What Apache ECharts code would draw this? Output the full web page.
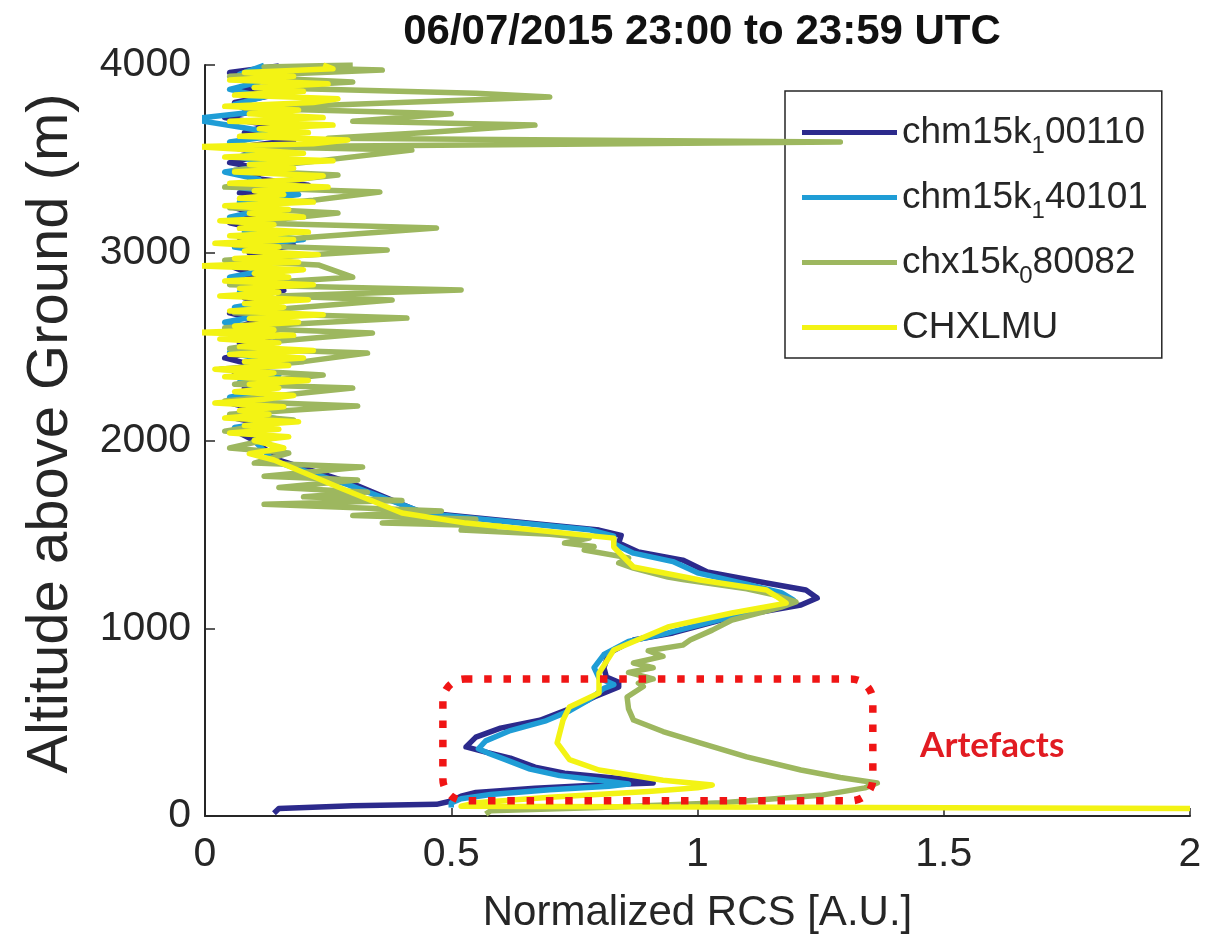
<!DOCTYPE html>
<html>
<head>
<meta charset="utf-8">
<script src="https://cdn.jsdelivr.net/npm/echarts@6/dist/echarts.min.js"></script>
<style>
  html, body { margin: 0; padding: 0; background: #ffffff; }
  #chart { width: 1207px; height: 944px; }
</style>
</head>
<body>
<div id="chart"></div>
<script>
// Normalized range-corrected signal profiles, one list of [RCS, altitude (m)] per ceilometer
const titleText = '06/07/2015 23:00 to 23:59 UTC';
const xTicks = [0, 0.5, 1, 1.5, 2];
const yTicks = [0, 1000, 2000, 3000, 4000];

const chm15k1_00110 = [
  [0.14, 15], [0.15, 40], [0.30, 55], [0.47, 62], [0.50, 80], [0.52, 105], [0.55, 125],
  [0.67, 148], [0.80, 165], [0.91, 176], [0.84, 200], [0.73, 228], [0.67, 260], [0.62, 308],
  [0.57, 340], [0.53, 368], [0.55, 420], [0.60, 468], [0.68, 510], [0.735, 565], [0.79, 634],
  [0.84, 687], [0.84, 712], [0.815, 740], [0.81, 790], [0.82, 868], [0.87, 937], [0.95, 975],
  [1.07, 1060], [1.21, 1124], [1.243, 1161], [1.22, 1204], [1.14, 1241], [1.02, 1300],
  [0.97, 1363], [0.88, 1406], [0.84, 1454], [0.845, 1495], [0.80, 1523], [0.44, 1616],
  [0.30, 1770], [0.15, 1895], [0.10, 2000], [0.07, 2040], [0.13, 2080], [0.06, 2120],
  [0.11, 2160], [0.05, 2200], [0.12, 2240], [0.08, 2280], [0.14, 2320], [0.06, 2360],
  [0.10, 2400], [0.04, 2440], [0.12, 2480], [0.07, 2520], [0.15, 2560], [0.06, 2600],
  [0.11, 2640], [0.05, 2680], [0.13, 2720], [0.08, 2760], [0.16, 2800], [0.05, 2840],
  [0.10, 2880], [0.06, 2920], [0.14, 2960], [0.09, 3000], [0.18, 3040], [0.07, 3080],
  [0.12, 3120], [0.05, 3160], [0.11, 3200], [0.06, 3240], [0.15, 3280], [0.07, 3320],
  [0.21, 3360], [0.09, 3400], [0.13, 3440], [0.05, 3480], [0.12, 3520], [0.06, 3560],
  [0.18, 3600], [0.08, 3640], [0.13, 3680], [0.04, 3720], [0.11, 3760], [0.06, 3800],
  [0.14, 3840], [0.07, 3880], [0.12, 3920], [0.05, 3960], [0.15, 3995]
];

const chm15k1_40101 = [
  [0.50, 45], [0.50, 70], [0.52, 92], [0.58, 115], [0.70, 140], [0.82, 158], [0.86, 170],
  [0.80, 190], [0.72, 215], [0.66, 250], [0.61, 300], [0.575, 335], [0.555, 358], [0.57, 400],
  [0.62, 455], [0.69, 505], [0.74, 560], [0.78, 620], [0.81, 680], [0.83, 700], [0.80, 735],
  [0.79, 790], [0.81, 860], [0.86, 930], [0.94, 975], [1.06, 1055], [1.17, 1115], [1.195, 1150],
  [1.17, 1190], [1.10, 1235], [1.00, 1295], [0.95, 1355], [0.87, 1400], [0.83, 1450],
  [0.83, 1490], [0.78, 1525], [0.45, 1610], [0.29, 1765], [0.14, 1890], [0.10, 2000],
  [0.12, 2030], [0.06, 2070], [0.16, 2110], [0.07, 2150], [0.12, 2190], [0.05, 2230],
  [0.13, 2270], [0.07, 2310], [0.15, 2350], [0.08, 2390], [0.12, 2430], [0.05, 2470],
  [0.11, 2510], [0.07, 2550], [0.13, 2590], [0.04, 2630], [0.12, 2670], [0.06, 2710],
  [0.15, 2750], [0.07, 2790], [0.11, 2830], [0.05, 2870], [0.13, 2910], [0.08, 2950],
  [0.16, 2990], [0.06, 3030], [0.20, 3070], [0.08, 3110], [0.13, 3150], [0.05, 3190],
  [0.12, 3230], [0.07, 3270], [0.19, 3310], [0.06, 3350], [0.11, 3390], [0.04, 3430],
  [0.14, 3470], [0.07, 3510], [0.12, 3550], [0.05, 3590], [0.16, 3630], [0.07, 3670],
  [-0.03, 3712], [0.10, 3750], [0.06, 3790], [0.12, 3830], [0.05, 3870], [0.11, 3910],
  [0.07, 3950], [0.12, 3998]
];

const chx15k0_80082 = [
  [0.57, 10], [0.58, 28], [0.80, 45], [1.05, 70], [1.25, 110], [1.34, 150], [1.365, 176],
  [1.29, 205], [1.21, 245], [1.10, 315], [1.005, 389], [0.93, 450], [0.87, 511], [0.86, 570],
  [0.857, 634], [0.89, 690], [0.88, 708], [0.91, 730], [0.86, 765], [0.91, 790], [0.87, 815],
  [0.93, 850], [0.90, 880], [0.97, 910], [0.985, 937], [1.03, 990], [1.07, 1044], [1.13, 1085],
  [1.17, 1113], [1.20, 1140], [1.16, 1175], [1.10, 1210], [0.97, 1260], [0.94, 1273],
  [0.87, 1320], [0.84, 1348], [0.86, 1375], [0.77, 1417], [0.79, 1435], [0.73, 1454],
  [0.78, 1480], [0.70, 1500], [0.52, 1523], [0.60, 1545], [0.36, 1560], [0.55, 1580],
  [0.30, 1600], [0.48, 1625], [0.12, 1660], [0.40, 1680], [0.20, 1700], [0.33, 1725],
  [0.15, 1750], [0.31, 1790], [0.12, 1810], [0.32, 1859], [0.10, 1880], [0.17, 1933],
  [0.05, 1960], [0.15, 2019], [0.04, 2050], [0.18, 2109], [0.05, 2140], [0.31, 2184],
  [0.04, 2210], [0.30, 2280], [0.06, 2300], [0.24, 2349], [0.03, 2380], [0.20, 2420],
  [0.33, 2466], [0.05, 2490], [0.15, 2530], [0.34, 2573], [0.04, 2600], [0.41, 2652],
  [0.06, 2680], [0.38, 2748], [0.15, 2770], [0.52, 2802], [0.05, 2830], [0.30, 2870],
  [0.23, 2935], [0.04, 2960], [0.37, 3015], [0.06, 3040], [0.20, 3080], [0.47, 3132],
  [0.08, 3160], [0.27, 3212], [0.05, 3240], [0.22, 3280], [0.355, 3324], [0.04, 3350],
  [0.27, 3414], [0.06, 3440], [0.20, 3480], [0.42, 3547], [0.10, 3565], [1.29, 3590],
  [0.25, 3610], [0.45, 3640], [0.67, 3680], [0.30, 3700], [0.50, 3740], [0.08, 3770],
  [0.70, 3830], [0.55, 3850], [0.10, 3880], [0.30, 3910], [0.05, 3940], [0.36, 3973],
  [0.12, 3990], [0.30, 4000]
];

const chxlmu = [
  [2.00, 40], [0.52, 52], [0.55, 70], [0.70, 100], [0.90, 130], [1.00, 150], [1.03, 165],
  [0.93, 190], [0.80, 245], [0.74, 300], [0.715, 389], [0.727, 511], [0.74, 581], [0.80, 655],
  [0.80, 761], [0.83, 884], [0.94, 1007], [1.07, 1081], [1.18, 1134], [1.16, 1170],
  [1.14, 1204], [1.005, 1257], [0.87, 1326], [0.83, 1433], [0.83, 1480], [0.53, 1560],
  [0.40, 1614], [0.27, 1752], [0.14, 1896], [0.09, 1930], [0.16, 1960], [0.10, 2000],
  [0.17, 2020], [0.05, 2040], [0.15, 2060], [0.08, 2080], [0.19, 2100], [0.04, 2120],
  [0.13, 2140], [0.07, 2160], [0.16, 2180], [0.02, 2200], [0.12, 2220], [0.18, 2240],
  [0.06, 2260], [0.15, 2280], [0.09, 2300], [0.21, 2320], [0.04, 2340], [0.14, 2360],
  [0.02, 2380], [0.17, 2400], [0.08, 2420], [0.20, 2440], [0.05, 2460], [0.22, 2480],
  [0.07, 2500], [0.15, 2520], [0.03, 2540], [0.18, 2560], [-0.03, 2575], [0.14, 2590],
  [0.06, 2610], [0.19, 2630], [0.09, 2650], [0.24, 2670], [0.05, 2690], [0.16, 2710],
  [0.08, 2730], [0.21, 2750], [0.03, 2770], [0.15, 2790], [0.07, 2810], [0.22, 2830],
  [0.04, 2850], [0.17, 2870], [0.10, 2890], [0.20, 2910], [-0.01, 2930], [0.19, 2950],
  [0.06, 2970], [0.23, 2990], [0.08, 3010], [0.15, 3030], [0.02, 3050], [0.18, 3070],
  [0.05, 3090], [0.21, 3110], [0.07, 3130], [0.14, 3150], [0.03, 3170], [0.20, 3190],
  [0.09, 3210], [0.17, 3230], [0.04, 3250], [0.22, 3270], [0.07, 3290], [0.16, 3310],
  [0.10, 3330], [0.25, 3350], [0.05, 3370], [0.19, 3390], [0.24, 3410], [0.06, 3430],
  [0.18, 3450], [0.09, 3470], [0.26, 3490], [0.04, 3510], [0.20, 3530], [0.08, 3550],
  [-0.02, 3565], [0.22, 3580], [0.29, 3600], [0.07, 3620], [0.21, 3640], [0.11, 3660],
  [0.26, 3680], [0.05, 3700], [0.24, 3720], [0.09, 3740], [0.19, 3760], [0.04, 3780],
  [0.22, 3800], [0.27, 3820], [0.06, 3840], [0.20, 3860], [0.10, 3880], [0.25, 3900],
  [0.05, 3920], [0.18, 3940], [0.08, 3960], [0.26, 3980], [0.24, 4000]
];

const seriesNames = ['chm15k_1 00110', 'chm15k_1 40101', 'chx15k_0 80082', 'CHXLMU'];
const seriesColors = ['#2c2a8c', '#1f9dd6', '#9db75f', '#f3f314'];
const seriesData = [chm15k1_00110, chm15k1_40101, chx15k0_80082, chxlmu];

// Box drawn around the near-range artefacts, in axis units: [xMin, xMax, altMin, altMax]
const artefactBox = [0.483, 1.356, 81, 730];
const artefactLabel = { text: 'Artefacts', x: 1.452, alt: 373 };

const chart = echarts.init(document.getElementById('chart'), null, { renderer: 'canvas' });
const axisColor = '#262626';
const font = '"Liberation Sans", Arial, Helvetica, sans-serif';

// "chm15k_1 00110" -> chm15k with subscript 1, then 00110
function legendLabel(name) {
  const m = name.match(/^([a-z0-9]+k)_(\d) (\d+)$/);
  if (!m) return '{t|' + name + '}';
  return '{t|' + m[1] + '}{s|' + m[2] + '}{t|' + m[3] + '}';
}

chart.setOption({
  animation: false,
  backgroundColor: '#ffffff',
  title: {
    text: titleText,
    left: 697,
    top: 6,
    textAlign: 'center',
    textStyle: { fontFamily: font, fontWeight: 'bold', fontSize: 42, color: '#111111' }
  },
  grid: { left: 205, right: 17, top: 65, bottom: 128, containLabel: false },
  legend: {
    orient: 'vertical',
    left: 785,
    top: 91,
    padding: [23, 14, 12, 17],
    itemGap: 20.5,
    itemWidth: 95,
    itemHeight: 5,
    icon: 'rect',
    borderColor: axisColor,
    borderWidth: 1.5,
    borderRadius: 0,
    backgroundColor: '#ffffff',
    data: seriesNames,
    formatter: legendLabel,
    textStyle: {
      fontFamily: font,
      color: axisColor,
      rich: {
        t: { fontFamily: font, fontSize: 37, color: axisColor, lineHeight: 52 },
        s: { fontFamily: font, fontSize: 24, color: axisColor, lineHeight: 16, verticalAlign: 'bottom' }
      }
    }
  },
  xAxis: {
    type: 'value',
    min: xTicks[0],
    max: xTicks[xTicks.length - 1],
    interval: 0.5,
    name: 'Normalized RCS [A.U.]',
    nameLocation: 'middle',
    nameGap: 76,
    nameTextStyle: { fontFamily: font, fontSize: 42, color: axisColor },
    axisLine: { show: true, onZero: false, lineStyle: { color: axisColor, width: 2 } },
    axisTick: { show: true, inside: true, length: 8, lineStyle: { color: axisColor, width: 1.5 } },
    axisLabel: { margin: 18, fontFamily: font, fontSize: 41, color: axisColor, formatter: v => String(v) },
    splitLine: { show: false }
  },
  yAxis: {
    type: 'value',
    min: yTicks[0],
    max: yTicks[yTicks.length - 1],
    interval: 1000,
    name: 'Altitude above Ground (m)',
    nameLocation: 'middle',
    nameGap: 125,
    nameTextStyle: { fontFamily: font, fontSize: 58, color: axisColor, padding: [0, 0, 0, 14] },
    axisLine: { show: true, onZero: false, lineStyle: { color: axisColor, width: 2 } },
    axisTick: { show: true, inside: true, length: 10, lineStyle: { color: axisColor, width: 1.5 } },
    axisLabel: { margin: 14, fontFamily: font, fontSize: 41, color: axisColor, formatter: v => String(v) },
    splitLine: { show: false }
  },
  series: seriesData.map((d, i) => ({
    name: seriesNames[i],
    type: 'line',
    data: d,
    symbol: 'none',
    showSymbol: false,
    clip: true,
    color: seriesColors[i],
    itemStyle: { color: seriesColors[i] },
    lineStyle: { color: seriesColors[i], width: 5.5, join: 'round' },
    z: 2 + i
  }))
});

// Dotted rounded box and its label, placed through the axes' own scales
const p0 = chart.convertToPixel({ gridIndex: 0 }, [artefactBox[0], artefactBox[3]]);
const p1 = chart.convertToPixel({ gridIndex: 0 }, [artefactBox[1], artefactBox[2]]);
const pl = chart.convertToPixel({ gridIndex: 0 }, [artefactLabel.x, artefactLabel.alt]);

chart.setOption({
  graphic: [
    {
      type: 'rect',
      z: 100,
      shape: { x: p0[0], y: p0[1], width: p1[0] - p0[0], height: p1[1] - p0[1], r: 22 },
      style: { fill: 'none', stroke: '#f01515', lineWidth: 7.5, lineDash: [7.5, 11.8], lineCap: 'butt' }
    },
    {
      type: 'text',
      z: 100,
      x: pl[0],
      y: pl[1],
      style: {
        text: artefactLabel.text,
        fill: '#e11b22',
        font: 'bold 35px Lato, "Open Sans", sans-serif',
        textAlign: 'left',
        textVerticalAlign: 'middle'
      }
    }
  ]
});
</script>
</body>
</html>
